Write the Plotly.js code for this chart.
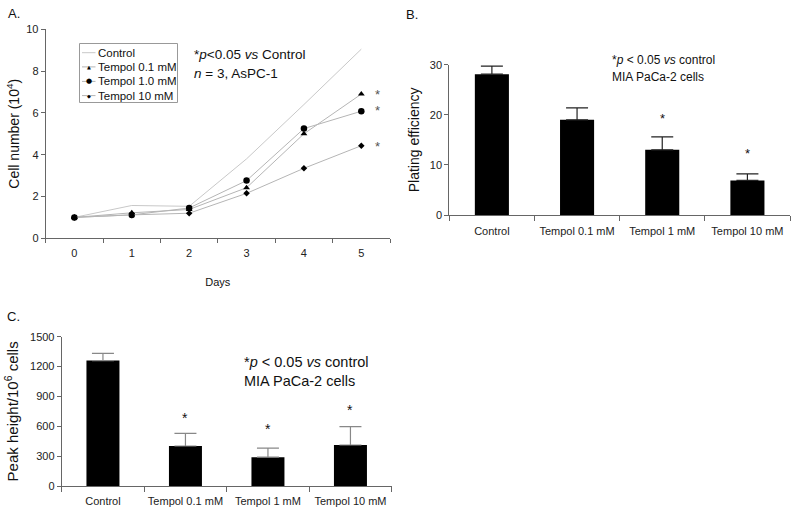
<!DOCTYPE html>
<html>
<head>
<meta charset="utf-8">
<script src="https://cdn.plot.ly/plotly-3.0.1.min.js"></script>
<style>html,body{margin:0;padding:0;background:#fff;}#chart{width:799px;height:513px;}</style>
</head>
<body>
<div id="chart"></div>
<script>
// Panel A: cell number (10^4) vs days
const days = ["0", "1", "2", "3", "4", "5"];
const controlA = [1.0, 1.57, 1.53, 3.8, 6.4, 9.05];
const tempol01A = [1.0, 1.22, 1.38, 2.42, 5.0, 6.9];
const tempol1A = [1.0, 1.12, 1.45, 2.76, 5.25, 6.08];
const tempol10A = [1.0, 1.12, 1.2, 2.15, 3.35, 4.43];
const seriesNamesA = ["Control", "Tempol 0.1 mM", "Tempol 1.0 mM", "Tempol 10 mM"];
const starsAy = [6.9, 6.1, 4.4];

// Panel B: plating efficiency
const groups = ["Control", "Tempol 0.1 mM", "Tempol 1 mM", "Tempol 10 mM"];
const platingB = [28.1, 19.0, 13.0, 6.9];
const platingErrB = [1.6, 2.4, 2.6, 1.3];
const starsB = [{g: 2, y: 19.2}, {g: 3, y: 12.3}];

// Panel C: peak height / 10^6 cells
const peakC = [1260, 402, 290, 412];
const peakErrC = [73, 127, 90, 185];
const starsC = [{g: 1, y: 680}, {g: 2, y: 570}, {g: 3, y: 763}];

const W = 799, H = 513;
const fx = p => p / W, fy = p => 1 - p / H;
const FONT = "Liberation Sans, Arial, sans-serif";
const lineCol = "#b5b5b5";
const symbolsA = ["circle", "triangle-up", "circle", "diamond"];
const symbolSizeA = [1, 6, 6.5, 5];
const dataA = [controlA, tempol01A, tempol1A, tempol10A];

const traces = dataA.map((ys, i) => ({
  x: days, y: ys, type: "scatter", mode: i === 0 ? "lines" : "lines+markers", name: seriesNamesA[i],
  line: {color: i === 0 ? "#c8c8c8" : lineCol, width: 1},
  marker: {symbol: symbolsA[i], size: symbolSizeA[i], color: "#000"},
  xaxis: "x", yaxis: "y", showlegend: false
}));
traces.push(
  {x: groups, y: platingB, type: "bar", width: 0.4, marker: {color: "#000"}, showlegend: false,
   error_y: {type: "data", symmetric: false, array: platingErrB, arrayminus: [0,0,0,0], color: "#222", thickness: 1.2, width: 11},
   xaxis: "x2", yaxis: "y2"},
  {x: groups, y: peakC, type: "bar", width: 0.4, marker: {color: "#000"}, showlegend: false,
   error_y: {type: "data", symmetric: false, array: peakErrC, arrayminus: [0,0,0,0], color: "#888", thickness: 1.2, width: 11},
   xaxis: "x3", yaxis: "y3"}
);

const axisBase = {
  showgrid: false, zeroline: false, showline: true, linecolor: "#666", linewidth: 1,
  ticks: "outside", ticklen: 4, tickcolor: "#666", tickfont: {family: FONT, size: 11, color: "#222"}
};

const ann = [];
const shapes = [];
const txt = (x, y, text, size, xref, yref, extra) => Object.assign({
  x: x, y: y, text: text, xref: xref || "paper", yref: yref || "paper", showarrow: false,
  font: {family: FONT, size: size, color: "#111"}, xanchor: "left", yanchor: "middle"
}, extra || {});

ann.push(txt(fx(6), fy(13), "A.", 13));
ann.push(txt(fx(404), fy(14), "B.", 13));
ann.push(txt(fx(5), fy(316), "C.", 13));

// Legend for panel A (compact box)
shapes.push({type: "rect", xref: "paper", yref: "paper", x0: fx(79.5), x1: fx(177.5), y0: fy(43.5), y1: fy(102.5),
  line: {color: "#999", width: 1}, fillcolor: "#fff", layer: "above"});
const legY = [52.7, 66.9, 81.4, 95.6];
const legGlyph = ["", "▲", "●", "◆"];
const legGlyphSize = [0, 5, 7, 5];
seriesNamesA.forEach((nm, i) => {
  shapes.push({type: "line", xref: "paper", yref: "paper", x0: fx(82), x1: fx(95.5), y0: fy(legY[i]), y1: fy(legY[i]),
    line: {color: i === 0 ? "#c8c8c8" : lineCol, width: 1}, layer: "above"});
  if (legGlyph[i]) ann.push(txt(fx(88.7), fy(legY[i]), legGlyph[i], legGlyphSize[i], "paper", "paper",
    {xanchor: "center", font: {family: "DejaVu Sans", size: legGlyphSize[i], color: "#000"}}));
  ann.push(txt(fx(95.5), fy(legY[i]), nm, 11.5));
});

ann.push(txt(fx(192), fy(54), "*<i>p</i>&lt;0.05 <i>vs</i> Control", 13.5));
ann.push(txt(fx(192), fy(73), "<i>n</i> = 3, AsPC-1", 13.5));
starsAy.forEach(v => ann.push(txt(5.28, v, "*", 13, "x", "y", {xanchor: "center", font: {family: FONT, size: 13, color: "#555"}})));

ann.push(txt(fx(610), fy(60), "*<i>p</i> &lt; 0.05 <i>vs</i> control", 12));
ann.push(txt(fx(610), fy(77), "MIA PaCa-2 cells", 12));
starsB.forEach(s => ann.push(txt(s.g, s.y, "*", 13, "x2", "y2", {xanchor: "center"})));

ann.push(txt(fx(242), fy(362), "*<i>p</i> &lt; 0.05 <i>vs</i> control", 14.5));
ann.push(txt(fx(242), fy(381), "MIA PaCa-2 cells", 14.5));
starsC.forEach(s => ann.push(txt(s.g, s.y, "*", 14, "x3", "y3", {xanchor: "center"})));

const layout = {
  width: W, height: H, margin: {l: 0, r: 0, t: 0, b: 0},
  paper_bgcolor: "#fff", plot_bgcolor: "rgba(0,0,0,0)",
  font: {family: FONT, color: "#111"},
  showlegend: false,
  xaxis: Object.assign({}, axisBase, {domain: [fx(45.7), fx(390)], anchor: "y", type: "category",
    tickson: "boundaries", range: [-0.5, 5.5], ticklabelstandoff: 4, tickangle: 0,
    title: {text: "Days", font: {family: FONT, size: 11}, standoff: 20}}),
  yaxis: Object.assign({}, axisBase, {domain: [fy(238.3), fy(29.3)], anchor: "x", range: [0, 10], dtick: 2,
    title: {text: "Cell number (10<sup>4</sup>)", font: {family: FONT, size: 14}, standoff: 3}}),
  xaxis2: Object.assign({}, axisBase, {domain: [fx(449.3), fx(790)], anchor: "y2", type: "category",
    tickson: "boundaries", range: [-0.5, 3.5], ticklen: 5, ticklabelstandoff: 6, tickangle: 0}),
  yaxis2: Object.assign({}, axisBase, {domain: [fy(215), fy(64.7)], anchor: "x2", range: [0, 30], dtick: 10,
    title: {text: "Plating efficiency", font: {family: FONT, size: 14}, standoff: 6}}),
  xaxis3: Object.assign({}, axisBase, {domain: [fx(61.7), fx(391.7)], anchor: "y3", type: "category",
    tickson: "boundaries", range: [-0.5, 3.5], ticklen: 5, ticklabelstandoff: 5, tickangle: 0}),
  yaxis3: Object.assign({}, axisBase, {domain: [fy(486), fy(336.7)], anchor: "x3", range: [0, 1500], dtick: 300,
    title: {text: "Peak height/10<sup>6</sup> cells", font: {family: FONT, size: 15}, standoff: 7}}),
  annotations: ann,
  shapes: shapes
};

Plotly.newPlot("chart", traces, layout, {staticPlot: true, displayModeBar: false});
</script>
</body>
</html>
